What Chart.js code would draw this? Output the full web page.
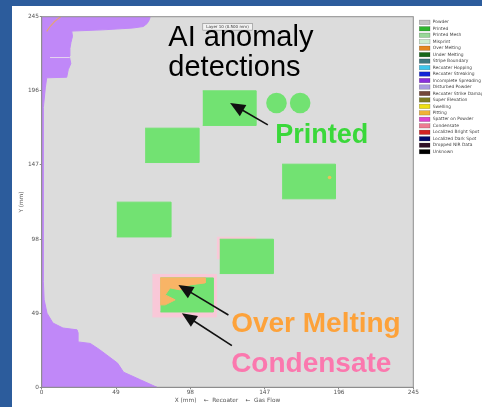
<!DOCTYPE html>
<html>
<head>
<meta charset="utf-8">
<script src="https://cdn.jsdelivr.net/npm/chart.js@4.4.1/dist/chart.umd.min.js"></script>
<style>
  html, body { margin: 0; padding: 0; width: 482px; height: 407px; overflow: hidden; background: #2c5c9c; }
  #panel { position: absolute; left: 12px; top: 6px; width: 470px; height: 401px; background: #ffffff; }
  canvas { display: block; }
</style>
</head>
<body>
<div id="panel"><canvas id="layerMap" width="470" height="401"></canvas></div>
<script>
// ---- layer 10 data, all in mm ----
const axisTicks = [0, 49, 98, 147, 196, 245];

const classNames = [
  'Powder', 'Printed', 'Printed Mesh', 'Misprint', 'Over Melting', 'Under Melting',
  'Stripe Boundary', 'Recoater Hopping', 'Recoater Streaking', 'Incomplete Spreading',
  'Disturbed Powder', 'Recoater Strike Damage', 'Super Elevation', 'Swelling', 'Pitting',
  'Spatter on Powder', 'Condensate', 'Localized Bright Spot', 'Localized Dark Spot',
  'Dropped NIR Data', 'Unknown'
];

// printed part footprints: [xmin, xmax] and [ymin, ymax]
const partSpanX = [[106.2, 141.4], [68.2, 103.8], [158.5, 193.7], [49.5, 85.3], [117.4, 152.8], [78.3, 113.2]];
const partSpanY = [[173.1, 196.0], [148.6, 171.3], [124.6, 147.5], [99.4, 122.4], [75.2, 97.9], [49.8, 72.3]];

// round witness parts
const discX = [154.8, 170.4];
const discY = [187.9, 187.9];

// unspread powder along the left edge of the plate
const spreadX = [0, 76, 65, 54, 50, 38, 32, 24, 24, 23.3, 14, 7.4, 3.5, 1.6, 1.1, 0.9, 1.3, 2.4, 3.3,
                 16.5, 17.5, 19.2, 18.2, 18.6, 19.3, 20.3, 19.8, 40, 60, 67, 69.5, 71, 71.5, 0];
const spreadY = [0, 0, 5, 10, 16, 25, 29, 30, 36, 38, 39.2, 42.5, 49, 58, 70, 147, 185, 198, 204.6,
                 205, 210, 214, 219, 224, 228, 232, 235.5, 236.3, 237.5, 238.5, 240.5, 243, 245, 245];

// thin streak cutting into the powder edge
const streakX = [5.5, 18.5];
const streakY = [218, 218];

// rim of the build plate
const rimX = [3.3, 5.5, 8.5, 12.5];
const rimY = [235.3, 238.5, 241.8, 245];

// over-melted zone on the lower part
const overMeltX = [78.1, 107.7, 107.7, 97.8, 91.3, 84.7, 81.4, 88.0, 81.4, 78.1];
const overMeltY = [72.3, 72.3, 69.0, 67.7, 64.4, 65.7, 61.1, 57.8, 54.5, 54.5];

// condensate around parts: [xmin, xmax] and [ymin, ymax]
const condensateSpanX = [[73.0, 115.2], [115.5, 141.0]];
const condensateSpanY = [[46.5, 74.6], [85.0, 99.2]];

// isolated over-melt spot
const spotX = [189.8];
const spotY = [138.7];

// ---- styling ----
const tone = {
  plate: '#dcdcdc',
  frame: '#8e8e8e',
  spread: '#c088f8',
  printed: '#72e272',
  overMelt: '#f8b466',
  condensate: '#f9c8d8',
  rim: '#e2a27a',
  streak: '#e6d6ee',
  tick: '#555555'
};
const classSwatch = [
  '#c4c4c4', '#2fb52f', '#98d898', '#cdeccd', '#e5861e', '#17661a', '#3f7880',
  '#3cc6ee', '#1226d6', '#8a2fdc', '#a99be0', '#74483a', '#7f7d22', '#efe012',
  '#f0b236', '#de44cf', '#ee7b92', '#d42222', '#050a6c', '#2e0e26', '#000000'
];

const zip = (xs, ys) => xs.map((x, i) => ({ x, y: ys[i] }));
const rectOf = (sx, sy) => [
  { x: sx[0], y: sy[0] }, { x: sx[1], y: sy[0] }, { x: sx[1], y: sy[1] }, { x: sx[0], y: sy[1] }
];
const region = (label, data, color, order) => ({
  label, data, order, showLine: true, fill: 'shape', tension: 0,
  backgroundColor: color, borderColor: color, borderWidth: 1, pointRadius: 0
});

const datasets = [
  region('Incomplete Spreading', zip(spreadX, spreadY), tone.spread, 20),
  { label: 'Streak', data: zip(streakX, streakY), order: 19, showLine: true, fill: false,
    borderColor: tone.streak, borderWidth: 1, pointRadius: 0 },
  { label: 'Plate rim', data: zip(rimX, rimY), order: 19, showLine: true, fill: false,
    borderColor: tone.rim, borderWidth: 1.2, pointRadius: 0 },
  ...condensateSpanX.map((sx, i) => region('Condensate', rectOf(sx, condensateSpanY[i]), tone.condensate, 15)),
  ...partSpanX.map((sx, i) => region('Printed', rectOf(sx, partSpanY[i]), tone.printed, 10)),
  { label: 'Printed', data: zip(discX, discY), order: 10, showLine: false,
    pointRadius: 10.3, pointBackgroundColor: tone.printed, pointBorderWidth: 0 },
  region('Over Melting', zip(overMeltX, overMeltY), tone.overMelt, 5),
  { label: 'Over Melting', data: zip(spotX, spotY), order: 5, showLine: false,
    pointRadius: 1.8, pointBackgroundColor: '#e9c25a', pointBorderWidth: 0 }
];

// plate background
const plateFill = {
  id: 'plateFill',
  beforeDraw(chart) {
    const { ctx, chartArea: a } = chart;
    ctx.save();
    ctx.fillStyle = tone.plate;
    ctx.fillRect(a.left, a.top, a.width, a.height);
    ctx.restore();
  }
};

function arrow(ctx, tx, ty, hx, hy) {
  const ang = Math.atan2(hy - ty, hx - tx);
  const len = 15, half = 6.5;
  const bx = hx - Math.cos(ang) * len, by = hy - Math.sin(ang) * len;
  ctx.beginPath();
  ctx.moveTo(tx, ty);
  ctx.lineTo(bx + Math.cos(ang) * 2, by + Math.sin(ang) * 2);
  ctx.stroke();
  ctx.beginPath();
  ctx.moveTo(hx, hy);
  ctx.lineTo(bx + Math.sin(ang) * half, by - Math.cos(ang) * half);
  ctx.lineTo(bx - Math.sin(ang) * half, by + Math.cos(ang) * half);
  ctx.closePath();
  ctx.fill();
}

// frame, layer tag, callouts and the class key
const overlay = {
  id: 'overlay',
  afterDraw(chart) {
    const { ctx, chartArea: a, scales: { x, y } } = chart;
    const X = v => x.getPixelForValue(v), Y = v => y.getPixelForValue(v);
    ctx.save();

    ctx.strokeStyle = tone.frame;
    ctx.lineWidth = 1;
    ctx.strokeRect(a.left, a.top, a.width, a.height);

    // layer tag
    const t0 = X(106.2), t1 = X(138.9), tt = Y(240.4), tb = Y(236.1);
    ctx.fillStyle = '#f2f2f2';
    ctx.fillRect(t0, tt, t1 - t0, tb - tt);
    ctx.strokeStyle = '#8a8a8a';
    ctx.lineWidth = 0.6;
    ctx.strokeRect(t0, tt, t1 - t0, tb - tt);
    ctx.fillStyle = '#333';
    ctx.font = '4px "DejaVu Sans"';
    ctx.textAlign = 'center';
    ctx.textBaseline = 'middle';
    ctx.fillText('Layer 10 (0.500 mm)', (t0 + t1) / 2, (tt + tb) / 2 + 0.3);

    // headline and callouts
    ctx.textAlign = 'left';
    ctx.textBaseline = 'alphabetic';
    ctx.fillStyle = '#000000';
    ctx.font = '29px "Liberation Sans"';
    ctx.fillText('AI anomaly', X(83.5), Y(225.3));
    ctx.fillText('detections', X(83.5), Y(205.5));

    ctx.font = 'bold 27px "Liberation Sans"';
    ctx.fillStyle = '#3ad83a';
    ctx.fillText('Printed', X(154.0), Y(161.4));
    ctx.font = 'bold 28px "Liberation Sans"';
    ctx.fillStyle = '#fda23a';
    ctx.fillText('Over Melting', X(124.9), Y(36.8));
    ctx.fillStyle = '#fb78ae';
    ctx.fillText('Condensate', X(124.9), Y(10.3));

    ctx.strokeStyle = '#111';
    ctx.fillStyle = '#111';
    ctx.lineWidth = 1.6;
    arrow(ctx, X(149.1), Y(173.5), X(124.2), Y(187.9));
    arrow(ctx, X(123.1), Y(47.8), X(90.1), Y(67.7));
    arrow(ctx, X(125.4), Y(27.5), X(92.4), Y(49.0));

    // class key
    const kx = a.right + 6, ky = a.top + 5.6, step = 6.47;
    ctx.font = '4.4px "DejaVu Sans"';
    ctx.textBaseline = 'middle';
    classNames.forEach((name, i) => {
      const cy = ky + i * step;
      ctx.fillStyle = classSwatch[i];
      ctx.fillRect(kx, cy - 2.2, 10.7, 4.4);
      ctx.strokeStyle = 'rgba(0,0,0,0.35)';
      ctx.lineWidth = 0.5;
      ctx.strokeRect(kx, cy - 2.2, 10.7, 4.4);
      ctx.fillStyle = '#444';
      ctx.fillText(name, kx + 13.4, cy);
    });
    ctx.restore();
  }
};

const tickFont = { family: 'DejaVu Sans', size: 5.8 };
const setTicks = s => { s.ticks = axisTicks.map(v => ({ value: v })); };

new Chart(document.getElementById('layerMap'), {
  type: 'scatter',
  data: { datasets },
  options: {
    responsive: false,
    animation: false,
    devicePixelRatio: 1,
    events: [],
    layout: { padding: { top: 10.7, right: 68.7, bottom: 0, left: 0 } },
    plugins: { legend: { display: false }, tooltip: { enabled: false } },
    scales: {
      x: {
        type: 'linear', min: 0, max: 245, position: 'bottom',
        afterBuildTicks: setTicks,
        afterFit: s => { s.height = 19.7; },
        ticks: { font: tickFont, color: tone.tick, padding: 0, maxRotation: 0, autoSkip: false },
        grid: { drawOnChartArea: false, tickLength: 2, color: '#888' },
        border: { color: tone.frame },
        title: { display: true, text: 'X (mm)    \u2190  Recoater    \u2190  Gas Flow',
                 font: tickFont, color: tone.tick, padding: { top: 0, bottom: 3.5 } }
      },
      y: {
        type: 'linear', min: 0, max: 245, position: 'left',
        afterBuildTicks: setTicks,
        afterFit: s => { s.width = 29.7; },
        ticks: { font: tickFont, color: tone.tick, padding: 0.7, autoSkip: false },
        grid: { drawOnChartArea: false, tickLength: 2, color: '#888' },
        border: { color: tone.frame },
        title: { display: true, text: 'Y (mm)', font: tickFont, color: tone.tick,
                 padding: { top: 6.2, bottom: 0 } }
      }
    }
  },
  plugins: [plateFill, overlay]
});
</script>
</body>
</html>
